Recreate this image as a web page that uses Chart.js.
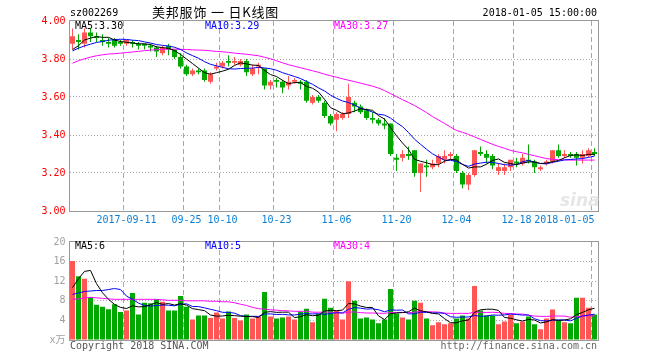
<!DOCTYPE html>
<html><head><meta charset="utf-8">
<script src="https://cdn.jsdelivr.net/npm/chart.js@4.4.1/dist/chart.umd.min.js"></script>
<style>
html,body{margin:0;padding:0;background:#fff;}
#wrap{position:relative;width:660px;height:360px;overflow:hidden;background:#fff;}
canvas{position:absolute;left:0;}
.t{position:absolute;white-space:pre;font-family:"DejaVu Sans Mono",monospace;font-size:10px;line-height:12px;}
</style></head><body>
<div id="wrap">
<canvas id="kc" width="660" height="232" style="top:0;width:660px;height:232px"></canvas>
<canvas id="vc" width="660" height="128" style="top:232px;width:660px;height:128px"></canvas>
<div class="t" style="left:70px;top:7px;color:#000">sz002269</div>
<div class="t" style="left:152px;top:3px;color:#000;font-family:'Noto Sans CJK SC',sans-serif;font-size:13px;line-height:18px;letter-spacing:0.8px">美邦服饰 一 日K线图</div>
<div class="t" style="right:63px;top:7px;color:#000;text-align:right">2018-01-05 15:00:00</div>
<div class="t" id="pm5" style="left:75px;top:20px;color:#000"></div>
<div class="t" id="pm10" style="left:205px;top:20px;color:#0000ff"></div>
<div class="t" id="pm30" style="left:334px;top:20px;color:#ff00ff"></div>
<div class="t" id="vm5" style="left:75px;top:240px;color:#000"></div>
<div class="t" id="vm10" style="left:205px;top:240px;color:#0000ff"></div>
<div class="t" id="vm30" style="left:334px;top:240px;color:#ff00ff"></div>
<div class="t" style="left:560px;top:190px;color:#e6e6e6;font-family:'DejaVu Sans',sans-serif;font-size:17px;font-weight:bold;font-style:italic;line-height:20px">sina</div>
<div class="t" style="left:70px;top:340px;color:#555">Copyright 2018 SINA.COM</div>
<div class="t" style="right:63px;top:340px;color:#666;text-align:right">http://finance.sina.com.cn</div>
</div>
<script>
const dates = ['2017-08-29','2017-08-30','2017-08-31','2017-09-01',
'2017-09-04','2017-09-05','2017-09-06','2017-09-07','2017-09-08',
'2017-09-11','2017-09-12','2017-09-13','2017-09-14','2017-09-15',
'2017-09-18','2017-09-19','2017-09-20','2017-09-21','2017-09-22',
'2017-09-25','2017-09-26','2017-09-27','2017-09-28','2017-09-29',
'2017-10-09','2017-10-10','2017-10-11','2017-10-12','2017-10-13',
'2017-10-16','2017-10-17','2017-10-18','2017-10-19','2017-10-20',
'2017-10-23','2017-10-24','2017-10-25','2017-10-26','2017-10-27',
'2017-10-30','2017-10-31','2017-11-01','2017-11-02','2017-11-03',
'2017-11-06','2017-11-07','2017-11-08','2017-11-09','2017-11-10',
'2017-11-13','2017-11-14','2017-11-15','2017-11-16','2017-11-17',
'2017-11-20','2017-11-21','2017-11-22','2017-11-23','2017-11-24',
'2017-11-27','2017-11-28','2017-11-29','2017-11-30','2017-12-01',
'2017-12-04','2017-12-05','2017-12-06','2017-12-07','2017-12-08',
'2017-12-11','2017-12-12','2017-12-13','2017-12-14','2017-12-15',
'2017-12-18','2017-12-19','2017-12-20','2017-12-21','2017-12-22',
'2017-12-25','2017-12-26','2017-12-27','2017-12-28','2017-12-29',
'2018-01-02','2018-01-03','2018-01-04','2018-01-05'];

const tickDates = ['2017-09-11','2017-09-25','2017-10-10','2017-10-23','2017-11-06','2017-11-20','2017-12-04','2017-12-18','2018-01-05'];
const tickTexts = ['2017-09-11','09-25','10-10','10-23','11-06','11-20','12-04','12-18','2018-01-05'];

const open = [3.88,3.90,3.88,3.94,3.92,3.90,3.89,3.90,3.89,3.88,
3.89,3.88,3.88,3.87,3.86,3.83,3.87,3.85,3.81,3.76,
3.72,3.74,3.74,3.68,3.75,3.76,3.79,3.78,3.77,3.79,
3.72,3.76,3.75,3.66,3.69,3.68,3.66,3.68,3.68,3.68,
3.57,3.60,3.57,3.50,3.48,3.49,3.51,3.57,3.55,3.53,
3.49,3.48,3.46,3.46,3.28,3.28,3.30,3.32,3.20,3.24,
3.23,3.25,3.27,3.29,3.29,3.20,3.14,3.19,3.31,3.30,
3.29,3.21,3.21,3.23,3.26,3.25,3.27,3.26,3.22,3.25,
3.26,3.32,3.29,3.30,3.30,3.28,3.29,3.31];
const high = [3.96,3.93,3.96,3.96,3.94,3.93,3.91,3.91,3.90,3.90,
3.90,3.89,3.88,3.88,3.87,3.87,3.88,3.85,3.83,3.77,
3.75,3.75,3.75,3.73,3.78,3.79,3.82,3.81,3.80,3.80,
3.77,3.78,3.75,3.69,3.70,3.69,3.71,3.70,3.69,3.69,
3.61,3.61,3.58,3.51,3.52,3.52,3.67,3.58,3.56,3.54,
3.52,3.49,3.49,3.46,3.30,3.32,3.34,3.32,3.25,3.27,
3.27,3.30,3.32,3.31,3.30,3.21,3.20,3.32,3.34,3.32,
3.30,3.25,3.25,3.27,3.28,3.30,3.35,3.27,3.24,3.27,
3.32,3.35,3.32,3.31,3.31,3.32,3.33,3.33];
const low = [3.85,3.85,3.86,3.89,3.89,3.87,3.86,3.86,3.87,3.87,
3.86,3.85,3.85,3.84,3.81,3.82,3.82,3.80,3.75,3.71,
3.71,3.72,3.68,3.67,3.74,3.75,3.76,3.77,3.76,3.71,
3.71,3.72,3.64,3.64,3.65,3.62,3.64,3.67,3.64,3.57,
3.56,3.57,3.49,3.45,3.42,3.48,3.49,3.52,3.51,3.48,
3.46,3.45,3.43,3.29,3.21,3.26,3.27,3.18,3.10,3.18,
3.22,3.23,3.25,3.27,3.20,3.12,3.11,3.18,3.29,3.25,
3.22,3.19,3.19,3.21,3.23,3.24,3.25,3.20,3.21,3.24,
3.25,3.28,3.28,3.28,3.24,3.25,3.28,3.29];
const close = [3.92,3.89,3.94,3.92,3.91,3.89,3.88,3.87,3.88,3.90,
3.88,3.87,3.87,3.86,3.84,3.86,3.85,3.81,3.76,3.72,
3.74,3.73,3.69,3.72,3.76,3.78,3.78,3.79,3.79,3.73,
3.75,3.77,3.66,3.68,3.68,3.65,3.68,3.69,3.67,3.58,
3.60,3.58,3.50,3.46,3.51,3.51,3.60,3.55,3.52,3.49,
3.48,3.46,3.45,3.30,3.27,3.30,3.29,3.20,3.25,3.23,
3.25,3.29,3.29,3.30,3.21,3.14,3.19,3.32,3.30,3.28,
3.24,3.23,3.23,3.27,3.25,3.28,3.26,3.23,3.23,3.26,
3.32,3.29,3.30,3.29,3.28,3.30,3.32,3.30];

const priceMA5 = [3.85,3.87,3.90,3.91,3.918,3.914,3.914,3.900,3.892,3.888,
3.884,3.880,3.880,3.876,3.864,3.860,3.856,3.844,3.824,3.800,
3.776,3.752,3.728,3.720,3.728,3.736,3.746,3.766,3.780,3.774,
3.768,3.766,3.740,3.718,3.708,3.688,3.670,3.676,3.676,3.656,
3.646,3.626,3.588,3.544,3.530,3.512,3.516,3.526,3.538,3.534,
3.530,3.502,3.484,3.440,3.396,3.358,3.324,3.272,3.262,3.254,
3.244,3.244,3.262,3.272,3.268,3.246,3.226,3.232,3.232,3.246,
3.266,3.274,3.256,3.250,3.244,3.252,3.258,3.258,3.250,3.252,
3.260,3.266,3.280,3.292,3.296,3.292,3.298,3.298];
const priceMA10 = [3.843,3.857,3.869,3.878,3.887,3.892,3.899,3.902,3.904,3.903,
3.899,3.897,3.890,3.884,3.876,3.872,3.868,3.862,3.850,3.832,
3.818,3.804,3.786,3.772,3.764,3.756,3.749,3.747,3.750,3.751,
3.752,3.756,3.753,3.749,3.741,3.728,3.718,3.708,3.697,3.682,
3.667,3.648,3.632,3.610,3.593,3.579,3.571,3.557,3.541,3.532,
3.521,3.509,3.505,3.489,3.465,3.444,3.413,3.378,3.351,3.325,
3.301,3.284,3.267,3.267,3.261,3.245,3.235,3.247,3.252,3.257,
3.256,3.250,3.244,3.241,3.245,3.259,3.266,3.257,3.250,3.248,
3.256,3.262,3.269,3.271,3.274,3.276,3.282,3.289];
const priceMA30 = [3.778,3.791,3.801,3.810,3.817,3.822,3.826,3.828,3.831,3.834,
3.837,3.840,3.844,3.847,3.849,3.851,3.852,3.852,3.851,3.850,
3.848,3.847,3.846,3.843,3.840,3.838,3.835,3.831,3.828,3.825,
3.821,3.817,3.809,3.801,3.791,3.780,3.770,3.762,3.754,3.746,
3.738,3.730,3.720,3.712,3.704,3.696,3.688,3.681,3.673,3.665,
3.657,3.647,3.634,3.618,3.602,3.586,3.571,3.555,3.537,3.518,
3.497,3.479,3.461,3.442,3.424,3.414,3.403,3.390,3.377,3.364,
3.351,3.340,3.330,3.319,3.312,3.306,3.298,3.291,3.283,3.276,
3.272,3.270,3.269,3.268,3.268,3.268,3.268,3.268];

const volume = [16.1,13.0,12.5,8.7,7.2,6.8,6.3,7.3,5.7,6.0,
9.6,5.2,7.6,7.5,8.3,7.8,6.0,6.0,9.0,6.8,
4.2,5.0,5.0,4.5,5.6,4.4,5.8,4.5,4.0,5.2,
4.4,4.8,9.8,4.8,4.4,4.6,4.8,4.2,5.8,6.4,
3.6,5.3,8.4,6.6,6.0,4.2,12.0,8.0,4.4,4.6,
4.2,3.4,4.2,10.4,5.4,4.6,4.2,8.0,7.6,4.4,
3.0,3.6,3.2,3.4,4.4,5.0,4.4,11.0,6.0,5.0,
5.0,3.2,3.8,5.2,3.4,3.8,4.8,3.2,2.2,4.4,
6.2,4.0,3.6,3.4,8.6,8.6,6.6,5.2];
const volMA5 = [10.7,12.5,14.0,14.2,11.5,9.64,8.3,7.26,6.66,6.42,
6.98,6.76,6.82,7.18,7.64,7.28,7.44,7.12,7.42,7.12,
6.4,6.2,6.0,5.1,4.86,4.9,5.06,4.96,4.86,4.78,
4.78,4.58,5.64,5.8,5.64,5.68,5.68,4.56,4.76,5.16,
4.96,5.06,5.9,6.06,5.98,6.1,7.44,7.36,6.92,6.64,
6.64,4.92,4.16,5.36,5.52,5.6,5.76,6.52,5.96,5.76,
5.44,5.32,4.36,3.52,3.52,3.92,4.08,5.64,6.16,6.28,
6.28,6.04,4.6,4.44,4.12,3.88,4.2,4.08,3.48,3.68,
4.16,4.0,4.08,4.32,5.16,5.64,6.16,6.48];
const volMA10 = [9.3,9.6,9.9,10.0,10.1,10.1,10.3,10.5,10.3,8.96,
8.31,7.53,7.04,6.92,7.03,7.13,7.1,6.97,7.3,7.38,
6.84,6.82,6.56,6.26,5.99,5.65,5.63,5.48,4.98,4.82,
4.84,4.82,5.3,5.33,5.21,5.23,5.13,5.1,5.28,5.4,
5.32,5.37,5.23,5.41,5.57,5.53,6.25,6.63,6.49,6.31,
6.37,6.18,5.76,6.14,6.08,6.12,5.34,5.34,5.66,5.64,
5.52,5.54,5.44,4.74,4.64,4.68,4.7,5.0,4.84,4.9,
5.1,5.06,5.12,5.3,5.2,5.08,5.12,4.34,3.96,3.9,
4.02,4.1,4.08,3.9,4.42,4.9,5.08,5.28];
const volMA30 = [8.3,8.4,8.6,8.7,8.6,8.5,8.4,8.3,8.3,8.3,
8.3,8.3,8.3,8.3,8.3,8.2,8.1,8.1,8.1,8.0,
8.0,8.0,8.0,7.9,7.9,7.8,7.8,7.6,7.3,7.05,
6.66,6.39,6.30,6.17,6.08,6.0,5.95,5.85,5.85,5.87,
5.67,5.67,5.70,5.67,5.59,5.47,5.67,5.74,5.58,5.51,
5.51,5.46,5.43,5.63,5.62,5.63,5.57,5.69,5.81,5.78,
5.74,5.70,5.48,5.43,5.43,5.44,5.43,5.66,5.66,5.62,
5.66,5.59,5.44,5.39,5.31,5.29,5.05,4.89,4.82,4.81,
4.88,4.9,4.88,4.65,4.75,4.89,4.97,4.87];

const priceTicks = {min: 3.0, max: 4.0, step: 0.2};
const volTicks = {min: 0, max: 20, step: 4, unit: 'x万'};

// ---- styling ----
const RED = '#ff5555', GREEN = '#00a800';
const MONO = '"DejaVu Sans Mono", "Noto Sans CJK SC", monospace';
const GRID = '#a8a8a8', FRAME = '#999999';
const tickIdx = tickDates.map(d => dates.indexOf(d));

const isUp = dates.map((d, i) => close[i] > open[i] || (close[i] === open[i] && i > 0 && close[i] >= close[i - 1]));
const colors = isUp.map(u => u ? RED : GREEN);

document.getElementById('pm5').textContent = 'MA5:' + priceMA5[priceMA5.length - 1].toFixed(2);
document.getElementById('pm10').textContent = 'MA10:' + priceMA10[priceMA10.length - 1].toFixed(2);
document.getElementById('pm30').textContent = 'MA30:' + priceMA30[priceMA30.length - 1].toFixed(2);
document.getElementById('vm5').textContent = 'MA5:' + Math.floor(volMA5[volMA5.length - 1]);
document.getElementById('vm10').textContent = 'MA10:' + Math.floor(volMA10[volMA10.length - 1]);
document.getElementById('vm30').textContent = 'MA30:' + Math.floor(volMA30[volMA30.length - 1]);

const frame = {
  id: 'frame',
  afterDatasetsDraw(chart) {
    const a = chart.chartArea, ctx = chart.ctx;
    ctx.save();
    ctx.strokeStyle = FRAME; ctx.lineWidth = 1;
    ctx.strokeRect(a.left, a.top - 0.5, a.right - a.left + 1, a.bottom - a.top + 1);
    ctx.restore();
  }
};

function maLine(label, data, color) {
  return {type: 'line', label, data, borderColor: color, borderWidth: 1, pointRadius: 0, tension: 0, fill: false, order: 0};
}

function xScale(showLabels, h) {
  return {
    type: 'category', offset: true,
    grid: {offset: true, drawTicks: false, lineWidth: 1,
      color: c => (c.index !== undefined && tickIdx.includes(c.index)) ? GRID : 'rgba(0,0,0,0)'},
    border: {display: false, dash: [5, 3]},
    ticks: {display: showLabels, autoSkip: false, maxRotation: 0, minRotation: 0, align: 'inner', padding: 3,
      color: '#0a7fd6', font: {family: MONO, size: 10},
      callback: (v, i) => { const k = tickIdx.indexOf(i); return k >= 0 ? tickTexts[k] : ''; }},
    afterFit: s => { s.height = h; }
  };
}

const common = {
  responsive: false, animation: false, devicePixelRatio: 1, events: [],
  plugins: {legend: {display: false}, tooltip: {enabled: false}}
};

new Chart(document.getElementById('kc'), {
  type: 'bar',
  data: {
    labels: dates,
    datasets: [
      maLine('MA5', priceMA5, '#000000'),
      maLine('MA10', priceMA10, '#0000ff'),
      maLine('MA30', priceMA30, '#ff00ff'),
      {label: 'body', data: dates.map((d, i) => [open[i], close[i]]), backgroundColor: colors,
        barThickness: 5, grouped: false, minBarLength: 1, inflateAmount: 0, borderWidth: 0, order: 1},
      {label: 'wick', data: dates.map((d, i) => [low[i], high[i]]), backgroundColor: colors,
        barThickness: 1, grouped: false, minBarLength: 1, inflateAmount: 0, borderWidth: 0, order: 2}
    ]
  },
  options: Object.assign({}, common, {
    layout: {padding: {left: 0, top: 21, right: 62.5, bottom: 0}},
    scales: {
      x: xScale(true, 21),
      y: {
        min: priceTicks.min, max: priceTicks.max,
        ticks: {stepSize: priceTicks.step, color: '#ff0000', padding: 4, font: {family: MONO, size: 10},
          callback: v => Number(v).toFixed(2)},
        grid: {drawTicks: false, lineWidth: 1,
          color: c => (c.tick && c.tick.value > priceTicks.min + 1e-6 && c.tick.value < priceTicks.max - 1e-6) ? GRID : 'rgba(0,0,0,0)'},
        border: {display: false, dash: [1, 2]},
        afterFit: s => { s.width = 69.5; }
      }
    }
  }),
  plugins: [frame]
});

new Chart(document.getElementById('vc'), {
  type: 'bar',
  data: {
    labels: dates,
    datasets: [
      maLine('MA5', volMA5, '#000000'),
      maLine('MA10', volMA10, '#0000ff'),
      maLine('MA30', volMA30, '#ff00ff'),
      {label: 'vol', data: volume, backgroundColor: colors, barThickness: 5, inflateAmount: 0, borderWidth: 0, order: 1}
    ]
  },
  options: Object.assign({}, common, {
    layout: {padding: {left: 0, top: 8, right: 62.5, bottom: 0}},
    scales: {
      x: xScale(false, 20),
      y: {
        min: volTicks.min, max: volTicks.max,
        ticks: {stepSize: volTicks.step, color: '#a0a0a0', padding: 4, font: {family: MONO, size: 10},
          callback: v => v === 0 ? volTicks.unit : String(v)},
        grid: {drawTicks: false, lineWidth: 1,
          color: c => (c.tick && c.tick.value > volTicks.min && c.tick.value < volTicks.max) ? GRID : 'rgba(0,0,0,0)'},
        border: {display: false, dash: [1, 2]},
        afterFit: s => { s.width = 69.5; }
      }
    }
  }),
  plugins: [frame]
});
</script>
</body></html>
